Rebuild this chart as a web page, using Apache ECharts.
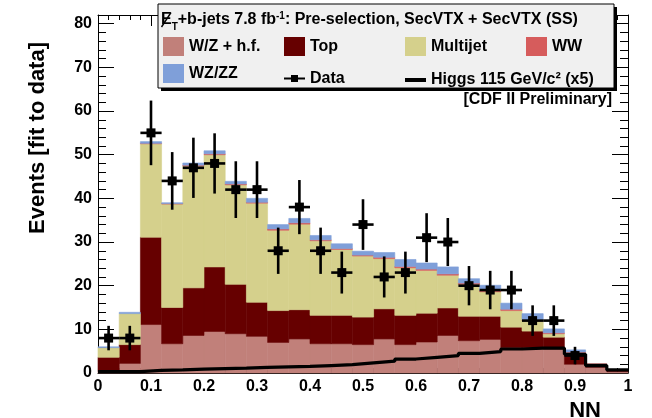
<!DOCTYPE html>
<html><head><meta charset="utf-8">
<script src="https://cdn.jsdelivr.net/npm/echarts@6/dist/echarts.min.js"></script>
<style>html,body{margin:0;padding:0;background:#fff}#c{width:652px;height:418px}</style>
</head><body><div id="c"></div>
<script>
// ---- data ----
const bins = [0.00,0.04,0.08,0.12,0.16,0.20,0.24,0.28,0.32,0.36,0.40,0.44,0.48,0.52,0.56,0.60,0.64,0.68,0.72,0.76,0.80,0.84,0.88,0.92,0.96];
const binWidth = 0.04;
const wzHf     = [0.3,2.2,11.1,6.7,8.6,9.5,9.0,8.4,7.0,7.8,6.7,6.7,6.5,7.8,6.5,7.1,8.6,7.4,7.7,5.8,5.8,5.5,2.0,1.3,0.3];
const topPair  = [3.3,4.3,20.0,8.3,10.9,14.8,11.3,7.8,7.3,6.7,6.5,6.5,6.3,6.9,6.7,6.6,6.3,5.6,5.3,4.7,3.8,2.7,2.3,0.8,0.1];
const multijet = [2.2,7.1,21.4,23.7,27.9,25.7,22.8,22.7,18.4,19.6,17.1,15.1,14.0,11.5,10.9,9.8,7.5,7.3,5.6,3.8,2.3,0.8,0.4,0,0];
const ww       = [0,0,0.1,0.1,0.2,0.2,0.2,0.2,0.3,0.3,0.2,0.2,0.2,0.3,0.3,0.3,0.3,0.3,0.3,0.3,0.2,0.2,0.1,0,0];
const wzzz     = [0.2,0.3,0.4,0.2,0.5,0.7,0.6,0.9,1.0,1.0,1.0,1.1,0.9,1.1,1.6,1.4,1.6,1.0,1.2,1.4,1.5,0.9,0.5,0,0];
const higgsX5  = [0.3,0.3,0.6,0.7,0.9,1.0,1.1,1.3,1.4,1.5,1.7,1.9,2.3,2.7,3.2,3.6,4.0,4.5,4.9,5.5,5.7,5.7,4.3,1.7,0.7];
const dataVals = [8,8,55,44,47,48,42,42,28,38,28,23,34,22,23,31,30,20,19,19,12,12,4,0,0];
const dataErr  = [2.8,2.8,7.4,6.6,6.9,6.9,6.5,6.5,5.3,6.2,5.3,4.8,5.8,4.7,4.8,5.6,5.5,4.5,4.4,4.4,3.5,3.5,2.0,0,0];
const xTicks = [0,0.1,0.2,0.3,0.4,0.5,0.6,0.7,0.8,0.9,1];
const yTicks = [0,10,20,30,40,50,60,70,80];

const FONT = '"Liberation Sans", Arial, Helvetica, sans-serif';
const processes = [
  {name:'W/Z + h.f.', color:'#c1807a', vals:wzHf},
  {name:'Top', color:'#660000', vals:topPair},
  {name:'Multijet', color:'#d5d08c', vals:multijet},
  {name:'WW', color:'#d65c5c', vals:ww},
  {name:'WZ/ZZ', color:'#7f9fd9', vals:wzzz}
];

const chart = echarts.init(document.getElementById('c'), null, {renderer:'canvas'});
const series = [];
let base = bins.map(() => 0);
processes.forEach(p => {
  const b = base.slice();
  const data = p.vals.map((v, i) => [bins[i], bins[i] + binWidth, b[i], b[i] + v]);
  base = base.map((x, i) => x + p.vals[i]);
  const col = p.color;
  series.push({
    type:'custom', name:p.name, silent:true, z:2,
    itemStyle:{color:col},
    encode:{x:[0,1], y:[2,3]},
    data,
    renderItem:(params, api) => {
      const y0 = api.value(2), y1 = api.value(3);
      if (y1 - y0 <= 0) return null;
      const p0 = api.coord([api.value(0), y1]);
      const p1 = api.coord([api.value(1), y0]);
      return {type:'rect', shape:{x:p0[0], y:p0[1], width:p1[0]-p0[0], height:p1[1]-p0[1]},
              style:{fill:col, stroke:col, lineWidth:0.6}};
    }
  });
});

// Higgs step line
const higgsPts = bins.map((b, i) => [b, higgsX5[i]]).concat([[1.0, higgsX5[higgsX5.length-1]]]);
series.push({
  type:'line', name:'Higgs 115 GeV/c² (x5)', step:'end', data:higgsPts, symbol:'none', z:4, silent:true,
  itemStyle:{color:'#000'}, lineStyle:{color:'#000', width:3.2}
});

// Data points with error bars
series.push({
  type:'custom', name:'Data', z:5, silent:true, itemStyle:{color:'#000'},
  encode:{x:0, y:1},
  data: dataVals.map((v, i) => [bins[i] + binWidth/2, v, dataErr[i]]),
  renderItem:(params, api) => {
    const xc = api.value(0), v = api.value(1), e = api.value(2);
    if (!(v > 0)) return null;
    const pl = api.coord([xc - binWidth/2, v]), pr = api.coord([xc + binWidth/2, v]);
    const pt = api.coord([xc, v + e]), pb = api.coord([xc, v - e]);
    const c = api.coord([xc, v]);
    return {type:'group', children:[
      {type:'line', shape:{x1:pl[0], y1:pl[1], x2:pr[0], y2:pr[1]}, style:{stroke:'#000', lineWidth:2.6}},
      {type:'line', shape:{x1:pt[0], y1:pt[1], x2:pb[0], y2:pb[1]}, style:{stroke:'#000', lineWidth:2.6}},
      {type:'rect', shape:{x:c[0]-4.5, y:c[1]-4.5, width:9, height:9}, style:{fill:'#000'}}
    ]};
  }
});

const axisCommonX = {
  type:'value', min:0, max:1, interval:0.1,
  axisLine:{show:true, onZero:false, lineStyle:{color:'#000', width:1}},
  axisTick:{show:true, inside:true, length:11, lineStyle:{color:'#000', width:1}},
  minorTick:{show:true, splitNumber:5, length:5, lineStyle:{color:'#000', width:1}},
  splitLine:{show:false}
};
const axisCommonY = {
  type:'value', min:0, max:82, interval:10,
  axisLine:{show:true, onZero:false, lineStyle:{color:'#000', width:1}},
  axisTick:{show:true, inside:true, length:16, lineStyle:{color:'#000', width:1}},
  minorTick:{show:true, splitNumber:5, length:8, lineStyle:{color:'#000', width:1}},
  splitLine:{show:false}
};

function legendItem(name, left, top, extra) {
  return Object.assign({
    show:true, left, top, orient:'horizontal', padding:0, itemGap:0, selectedMode:false, z:20,
    itemWidth:21, itemHeight:19,
    textStyle:{fontFamily:FONT, fontWeight:'bold', fontSize:16, color:'#000'},
    data:[{name, icon:'rect'}]
  }, extra || {});
}

const option = {
  animation:false,
  backgroundColor:'#ffffff',
  grid:{left:98, right:24, top:15, bottom:45, containLabel:false},
  xAxis:[
    Object.assign({}, axisCommonX, {position:'bottom',
      axisLabel:{show:true, fontFamily:FONT, fontWeight:'bold', fontSize:16, color:'#000', margin:6,
        formatter: v => (xTicks.some(t => Math.abs(t - v) < 1e-6) ? String(Math.round(v*10)/10) : '')}}),
    Object.assign({}, axisCommonX, {position:'top', axisLabel:{show:false}})
  ],
  yAxis:[
    Object.assign({}, axisCommonY, {position:'left',
      axisLabel:{show:true, showMaxLabel:false, fontFamily:FONT, fontWeight:'bold', fontSize:16, color:'#000', margin:6,
        formatter: v => (yTicks.indexOf(Math.round(v)) >= 0 && Math.abs(v - Math.round(v)) < 1e-6 ? String(Math.round(v)) : '')}}),
    Object.assign({}, axisCommonY, {position:'right', axisLabel:{show:false}})
  ],
  legend:[
    legendItem('W/Z + h.f.', 163, 37),
    legendItem('Top', 284, 37),
    legendItem('Multijet', 405, 37),
    legendItem('WW', 526, 37),
    legendItem('WZ/ZZ', 163, 64),
    legendItem('Data', 284, 70.5, {itemHeight:7,
      data:[{name:'Data', icon:'path://M0,2.5H7V0H14V2.5H21V4.5H14V7H7V4.5H0Z', itemStyle:{color:'#000'}}]}),
    legendItem('Higgs 115 GeV/c² (x5)', 405, 72, {itemHeight:4,
      data:[{name:'Higgs 115 GeV/c² (x5)', icon:'rect', itemStyle:{color:'#000'}}]})
  ],
  graphic:[
    {type:'rect', z:10, silent:true, shape:{x:161, y:7, width:456, height:84}, style:{fill:'#000'}},
    {type:'rect', z:11, silent:true, shape:{x:158, y:4, width:456, height:84}, style:{fill:'#f0f0f0', stroke:'#000', lineWidth:1}},
    {type:'text', z:21, silent:true, x:161, y:20,
      style:{
        text:'{m|E}{s|T}{m|+b-jets 7.8 fb}{p|-1}{m|: Pre-selection, SecVTX + SecVTX (SS)}',
        verticalAlign:'middle', align:'left',
        rich:{
          m:{fontFamily:FONT, fontWeight:'bold', fontSize:16, color:'#000', lineHeight:20, verticalAlign:'middle'},
          s:{fontFamily:FONT, fontWeight:'bold', fontSize:10, color:'#000', lineHeight:20, verticalAlign:'bottom', padding:[0,0,-2,0]},
          p:{fontFamily:FONT, fontWeight:'bold', fontSize:10, color:'#000', lineHeight:20, verticalAlign:'top', padding:[1,0,0,0]}
        }
      }},
    {type:'line', z:22, silent:true, shape:{x1:161.5, y1:27, x2:171, y2:12.5}, style:{stroke:'#000', lineWidth:1.4}},
    {type:'text', z:5, silent:true, x:612, y:100,
      style:{text:'[CDF II Preliminary]', align:'right', verticalAlign:'middle',
        fontFamily:FONT, fontWeight:'bold', fontSize:16, fill:'#000'}},
    {type:'text', z:5, silent:true, x:38, y:42, rotation:Math.PI/2,
      style:{text:'Events [fit to data]', align:'right', verticalAlign:'middle',
        fontFamily:FONT, fontWeight:'bold', fontSize:22, fill:'#000'}},
    {type:'text', z:5, silent:true, x:601, y:400,
      style:{text:'NN', align:'right', verticalAlign:'top',
        fontFamily:FONT, fontWeight:'bold', fontSize:22, fill:'#000'}}
  ],
  series
};
chart.setOption(option);
</script>
</body></html>
